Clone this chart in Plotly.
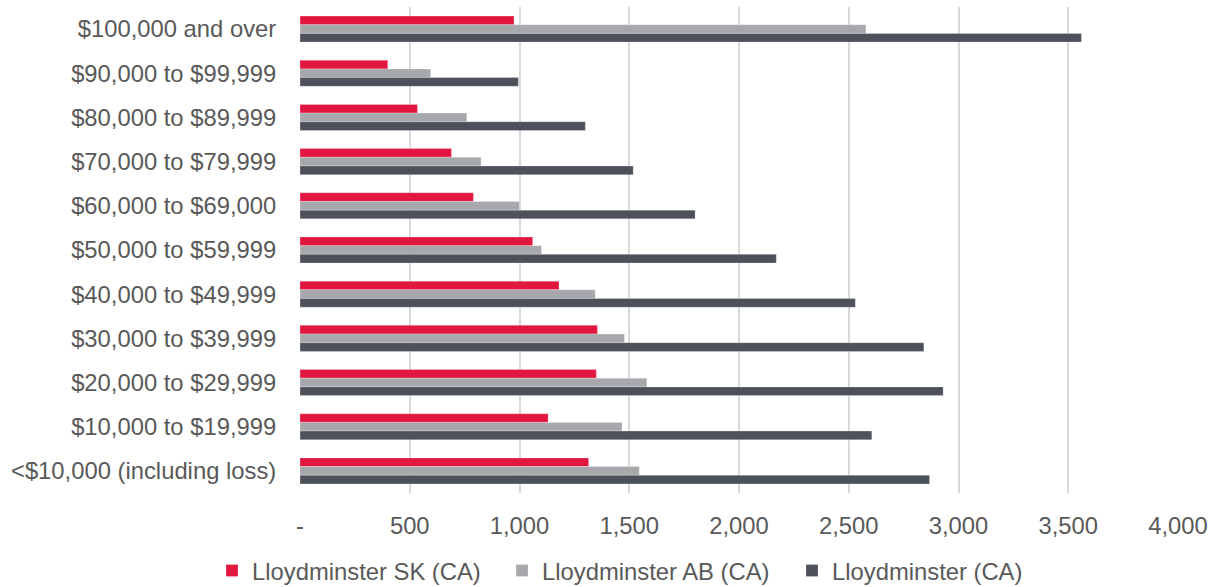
import plotly.graph_objects as go

# Income brackets, listed top to bottom
categories = [
    "$100,000 and over",
    "$90,000 to $99,999",
    "$80,000 to $89,999",
    "$70,000 to $79,999",
    "$60,000 to $69,000",
    "$50,000 to $59,999",
    "$40,000 to $49,999",
    "$30,000 to $39,999",
    "$20,000 to $29,999",
    "$10,000 to $19,999",
    "<$10,000 (including loss)",
]

sk_values = [975, 400, 535, 690, 790, 1060, 1180, 1355, 1350, 1130, 1315]
ab_values = [2578, 595, 760, 825, 1000, 1100, 1345, 1478, 1580, 1467, 1546]
ca_values = [3560, 995, 1300, 1518, 1800, 2170, 2530, 2842, 2930, 2605, 2868]

series_names = ["Lloydminster SK (CA)", "Lloydminster AB (CA)", "Lloydminster (CA)"]
series_colors = ["#E2173F", "#A7A8AB", "#4D515A"]

x_tickvals = [0, 500, 1000, 1500, 2000, 2500, 3000, 3500, 4000]
x_ticktext = ["-", "500", "1,000", "1,500", "2,000", "2,500", "3,000", "3,500", "4,000"]

FONT = "Liberation Sans, Arial, sans-serif"
TEXT_COLOR = "#595959"
FONT_SIZE = 23.8

fig = go.Figure()
for name, vals, color in zip(series_names, [sk_values, ab_values, ca_values], series_colors):
    fig.add_trace(go.Bar(
        y=categories,
        x=vals,
        name=name,
        orientation="h",
        marker=dict(color=color, line=dict(color="rgba(255,255,255,0.5)", width=0.5)),
    ))

fig.update_layout(
    width=1215,
    height=587,
    margin=dict(l=300, r=34, t=7, b=94),
    paper_bgcolor="white",
    plot_bgcolor="white",
    barmode="group",
    bargap=0.41,
    bargroupgap=0,
    font=dict(family=FONT, size=FONT_SIZE, color=TEXT_COLOR),
    showlegend=True,
    legend=dict(
        orientation="h",
        x=212 / 1215,
        xref="container",
        xanchor="left",
        y=0.028,
        yref="container",
        yanchor="middle",
        itemwidth=30,
        entrywidth=245,
        entrywidthmode="pixels",
        font=dict(family=FONT, size=FONT_SIZE, color=TEXT_COLOR),
        traceorder="normal",
        itemclick=False,
    ),
    xaxis=dict(
        range=[0, 4000],
        tickvals=x_tickvals,
        ticktext=x_ticktext,
        showgrid=True,
        gridcolor="#D9D9D9",
        gridwidth=1.5,
        zeroline=False,
        showline=False,
        ticks="outside",
        ticklen=11,
        tickcolor="rgba(0,0,0,0)",
        tickfont=dict(family=FONT, size=FONT_SIZE, color=TEXT_COLOR),
    ),
    yaxis=dict(
        autorange="reversed",
        showgrid=False,
        zeroline=False,
        showline=False,
        ticks="outside",
        ticklen=18,
        tickcolor="rgba(0,0,0,0)",
        tickfont=dict(family=FONT, size=FONT_SIZE, color=TEXT_COLOR),
    ),
)

fig.write_html("out.html")
